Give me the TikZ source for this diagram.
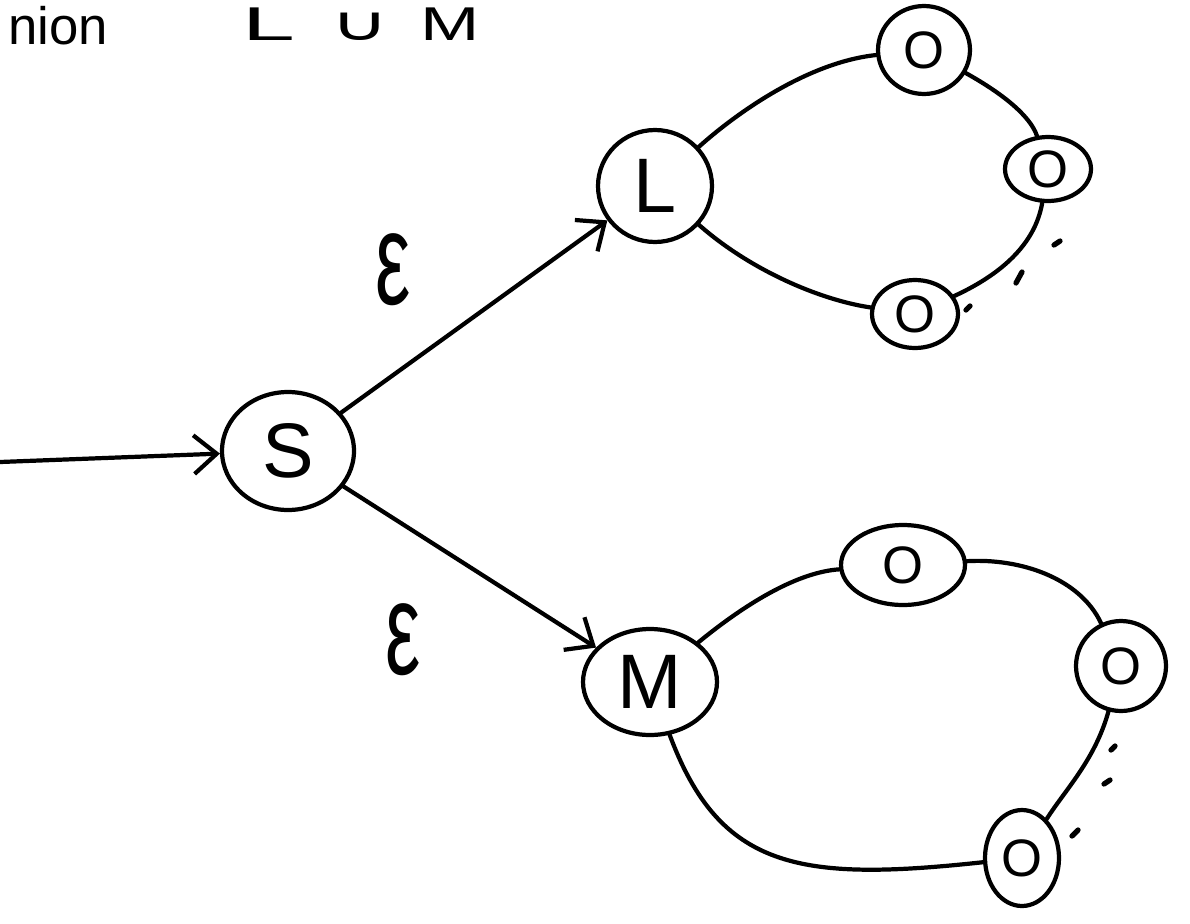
\documentclass[tikz,border=0pt]{standalone}
\usepackage{fontspec}
\setmainfont{Liberation Sans}
\newfontfamily\dvfont{DejaVu Sans}
\usetikzlibrary{arrows.meta,shapes.geometric}
\begin{document}
\begin{tikzpicture}[x=0.02cm,y=-0.02cm,line width=2.4pt,line cap=round,line join=round,
  st/.style={draw,ellipse,inner sep=0pt},
  big/.style={font=\fontsize{44}{44}\selectfont},
  small/.style={font=\fontsize{30}{30}\selectfont},
  eps/.style={font=\fontsize{50}{50}\selectfont},
  head/.style={anchor=base west,inner sep=0pt,font=\fontsize{27}{27}\selectfont},
  arr/.style={-{Straight Barb[length=13pt,width=22pt,line width=2.4pt]}},
  dotmark/.style={line width=3pt}]
\useasboundingbox (0,0) rectangle (1190,923);
% title
\node[anchor=base west,font=\fontsize{30}{30}\selectfont,inner sep=0pt] (title) at (6,44) {nion};
\node[head] (tl) at (240,40) {\scalebox{2}[1]{L}};
\node[head,font=\dvfont\fontsize{27}{27}\selectfont] (tu) at (328,40) {\scalebox{1.7}[1]{∪}};
\node[head] (tm) at (418,40) {\scalebox{1.5}[1]{M}};
% states
\node[st,big,minimum width=2.64cm,minimum height=2.36cm] (S) at (288,451) {S};
\node[st,big,minimum width=2.28cm,minimum height=2.24cm] (L) at (655,186) {L};
\node[st,small,minimum width=1.84cm,minimum height=1.76cm] (O1) at (924,50) {O};
\node[st,small,minimum width=1.72cm,minimum height=1.28cm] (O2) at (1048,169) {O};
\node[st,small,minimum width=1.72cm,minimum height=1.36cm] (O3) at (915,314) {O};
\node[st,big,minimum width=2.68cm,minimum height=2.12cm] (M) at (650,682) {M};
\node[st,small,minimum width=2.48cm,minimum height=1.6cm] (O4) at (903,565) {O};
\node[st,small,minimum width=1.8cm,minimum height=1.8cm] (O5) at (1121,666) {O};
\node[st,small,minimum width=1.48cm,minimum height=1.92cm] (O6) at (1022,858) {O};
% labels
\node[eps] (e1) at (393,270) {\scalebox{0.9}[1.5]{ε}};
\node[eps] (e2) at (403,640) {\scalebox{0.9}[1.5]{ε}};
% start arrow
\coordinate (in) at (0,462);
\draw[arr] (in) -- (S);
\draw[arr] (S) -- (L);
\draw[arr] (S) -- (M);
% upper loop
\draw (L) .. controls (740,110) and (810,62) .. (O1);
\draw (O1) .. controls (1000,92) and (1030,115) .. (O2);
\draw (O2) .. controls (1035,245) and (1000,275) .. (O3);
\draw (L) .. controls (750,270) and (820,300) .. (O3);
% lower loop
\draw (M) .. controls (750,600) and (800,572) .. (O4);
\draw (O4) .. controls (1020,558) and (1080,578) .. (O5);
\draw (O5) .. controls (1095,760) and (1065,790) .. (O6);
\draw (M) .. controls (720,870) and (800,882) .. (O6);
% ellipsis marks
\draw[dotmark] (1054,245) -- (1060,241);
\draw[dotmark] (1016,283) -- (1022,272);
\draw[dotmark] (966,310) -- (970,306);
\draw[dotmark] (1111,750) -- (1115,746);
\draw[dotmark] (1104,784) -- (1110,780);
\draw[dotmark] (1072,836) -- (1078,830);
\end{tikzpicture}
\end{document}
